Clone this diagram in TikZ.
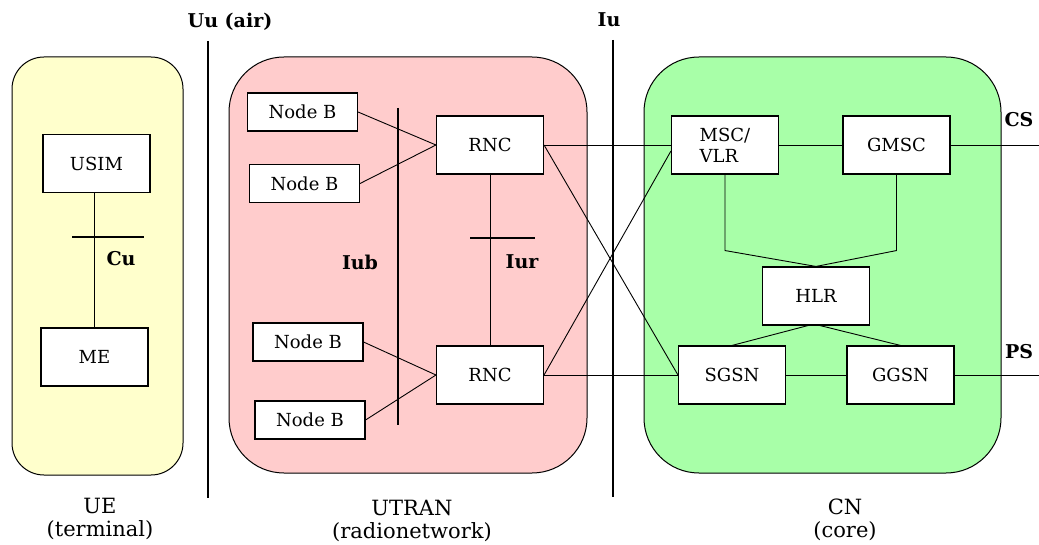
\documentclass[tikz,border=0pt]{standalone}
\usepackage{fontspec}
\setmainfont{DejaVu Serif}
\usetikzlibrary{positioning}
\definecolor{uefill}{HTML}{FFFFCC}
\definecolor{ranfill}{HTML}{FFCCCC}
\definecolor{cnfill}{HTML}{A8FFA8}
\tikzset{
  ent/.style={draw, fill=white, line width=1.1pt, inner sep=0pt,
    minimum width=107, minimum height=58},
  nodeb/.style={ent, minimum width=110, minimum height=38},
  iface/.style={line width=2pt},
  link/.style={line width=0.9pt},
  ilabel/.style={font=\fontsize{19}{21}\selectfont\bfseries},
  dlabel/.style={align=center, font=\fontsize{21}{23}\selectfont}
}

\begin{document}
\begin{tikzpicture}[x=1pt, y=-1pt, font=\fontsize{18}{21}\selectfont]
\useasboundingbox (0,0) rectangle (1039,545);
% domains
\draw [fill=uefill, line width=1pt, rounded corners=32] (12,57) rectangle (183,475);
\draw [fill=ranfill, line width=1pt, rounded corners=55] (229,57) rectangle (587,473);
\draw [fill=cnfill, line width=1pt, rounded corners=55] (644,57) rectangle (1001,473);
\node [dlabel] (ue) at (100,519) {UE\\(terminal)};
\node [dlabel] (utran) at (412,521) {UTRAN\\(radionetwork)};
\node [dlabel] (cn) at (845,520) {CN\\(core)};
% interfaces
\draw [iface] (208,41)--(208,498);
\node [ilabel] (uu) at (230,22) {Uu (air)};
\draw [iface] (613,40)--(613,497);
\node [ilabel] (iu) at (609,20) {Iu};
\draw [iface] (398,108)--(398,425);
\node [ilabel] (iub) at (360,262) {Iub};
% terminal
\node [ent] (usim) at (96.5,163.5) {USIM};
\node [ent] (me) at (94.5,357) {ME};
\draw [link] (me.north |- usim.south)--(me.north);
\draw [iface] (72,237)--(144,237);
\node [ilabel] (cu) at (121,259) {Cu};
% radio network
\node [nodeb] (nb1) at (302.5,112) {Node B};
\node [nodeb] (nb2) at (304.5,183.5) {Node B};
\node [nodeb] (nb3) at (308,342) {Node B};
\node [nodeb] (nb4) at (310,420) {Node B};
\node [ent] (rnc1) at (490,145) {RNC};
\node [ent] (rnc2) at (490,375) {RNC};
\draw [link] (nb1.east)--(rnc1.west);
\draw [link] (nb2.east)--(rnc1.west);
\draw [link] (nb3.east)--(rnc2.west);
\draw [link] (nb4.east)--(rnc2.west);
\draw [link] (rnc1)--(rnc2);
\draw [iface] (470,238)--(535,238);
\node [ilabel] (iur) at (522,262) {Iur};
% core
\node [ent, align=left] (msc) at (725,145) {MSC/\\VLR};
\node [ent] (gmsc) at (896.5,145) {GMSC};
\node [ent] (hlr) at (816,296) {HLR};
\node [ent] (sgsn) at (732,375) {SGSN};
\node [ent] (ggsn) at (900.5,375) {GGSN};
\coordinate (csend) at (1039,145);
\coordinate (psend) at (1039,375);
\draw [link] (rnc1.east)--(msc.west);
\draw [link] (rnc1.east)--(sgsn.west);
\draw [link] (rnc2.east)--([yshift=-6]msc.west);
\draw [link] (rnc2.east)--(sgsn.west);
\draw [link] (msc)--(gmsc);
\draw [link] (msc.south)--++(0,76)--(hlr.north);
\draw [link] (gmsc.south)--++(0,76)--(hlr.north);
\draw [link] ([xshift=-8]hlr.south)--(sgsn.north);
\draw [link] ([xshift=4]hlr.south)--(ggsn.north);
\draw [link] (sgsn)--(ggsn);
\draw [link] (gmsc.east)--(csend);
\draw [link] (ggsn.east)--(psend);
\node [ilabel] (cs) at (1019,120) {CS};
\node [ilabel] (ps) at (1019,352) {PS};
\end{tikzpicture}
\end{document}
